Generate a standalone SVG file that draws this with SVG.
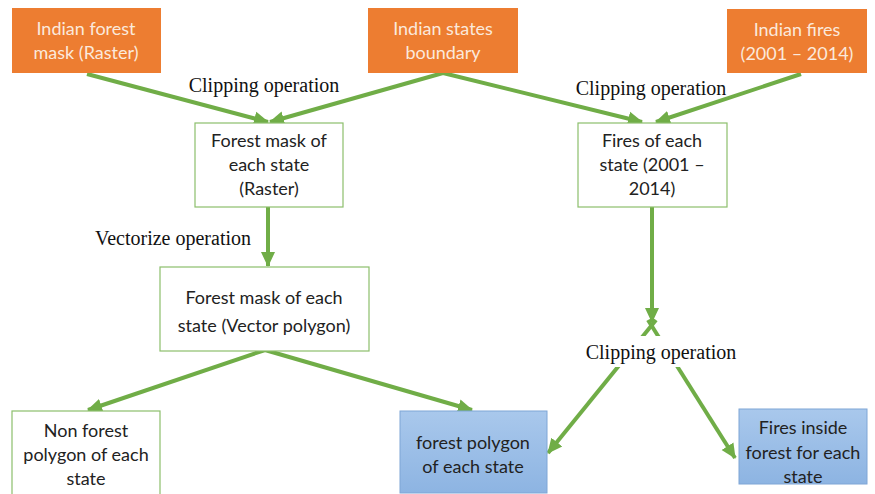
<svg xmlns="http://www.w3.org/2000/svg" width="875" height="494" viewBox="0 0 875 494">
<defs>
<marker id="ah" markerUnits="userSpaceOnUse" markerWidth="16" markerHeight="16" viewBox="0 0 16 16" refX="14" refY="8" orient="auto">
<path d="M0,1 L15,8 L0,15 Z" fill="#70AD47"/>
</marker>
<linearGradient id="blue" x1="0" y1="0" x2="0" y2="1">
<stop offset="0" stop-color="#A9C8EC"/>
<stop offset="1" stop-color="#8DB4E2"/>
</linearGradient>
</defs>
<style>
.or{fill:#ED7D31;}
.wb{fill:#ffffff;stroke:#8CBF6C;stroke-width:1.2;}
.bb{fill:url(#blue);stroke:#7FA6D6;stroke-width:1;}
.t{font-family:Lato,"Open Sans","Liberation Sans",sans-serif;font-size:18px;text-anchor:middle;fill:#222;}
.tw{font-family:Lato,"Open Sans","Liberation Sans",sans-serif;font-size:18px;text-anchor:middle;fill:#FBE9DC;}
.lbl{font-family:"Liberation Serif","Times New Roman",serif;font-size:20px;fill:#111;}
.c{stroke:#70AD47;stroke-width:4;fill:none;}
</style>
<rect width="875" height="494" fill="#ffffff"/>
<g id="connectors">
<line class="c" x1="87" y1="74" x2="268" y2="122" marker-end="url(#ah)"/>
<line class="c" x1="443" y1="73" x2="270" y2="122" marker-end="url(#ah)"/>
<line class="c" x1="443" y1="73" x2="642" y2="122" marker-end="url(#ah)"/>
<line class="c" x1="801" y1="74" x2="656" y2="122" marker-end="url(#ah)"/>
<line class="c" x1="268" y1="207" x2="268" y2="266" marker-end="url(#ah)"/>
<line class="c" x1="652" y1="207" x2="652" y2="322" marker-end="url(#ah)"/>
<line class="c" x1="265" y1="350" x2="88" y2="410" marker-end="url(#ah)"/>
<line class="c" x1="265" y1="350" x2="472" y2="410" marker-end="url(#ah)"/>
<line class="c" x1="656" y1="320" x2="548" y2="453" marker-end="url(#ah)"/>
<line class="c" x1="648" y1="320" x2="735" y2="458" marker-end="url(#ah)"/>
<rect x="584" y="336" width="156" height="31" fill="#ffffff"/>
</g>
<g id="labels">
<text class="lbl" x="264" y="92" text-anchor="middle">Clipping operation</text>
<text class="lbl" x="651" y="95" text-anchor="middle">Clipping operation</text>
<text class="lbl" x="173" y="245" text-anchor="middle">Vectorize operation</text>
<text class="lbl" x="661" y="359" text-anchor="middle">Clipping operation</text>
</g>
<g id="n1">
<rect class="or" x="12" y="8" width="149" height="65"/>
<text class="tw" x="86" y="35">Indian forest</text>
<text class="tw" x="86" y="59">mask (Raster)</text>
</g>
<g id="n2">
<rect class="or" x="368" y="8" width="150" height="65"/>
<text class="tw" x="443" y="35">Indian states</text>
<text class="tw" x="443" y="59">boundary</text>
</g>
<g id="n3">
<rect class="or" x="727" y="9" width="140" height="64"/>
<text class="tw" x="797" y="36">Indian fires</text>
<text class="tw" x="797" y="60">(2001 – 2014)</text>
</g>
<g id="n4">
<rect class="wb" x="195" y="123" width="148" height="84"/>
<text class="t" x="269" y="147">Forest mask of</text>
<text class="t" x="269" y="171">each state</text>
<text class="t" x="269" y="195">(Raster)</text>
</g>
<g id="n5">
<rect class="wb" x="578" y="123" width="149" height="84"/>
<text class="t" x="652" y="147">Fires of each</text>
<text class="t" x="652" y="171">state (2001 –</text>
<text class="t" x="652" y="195">2014)</text>
</g>
<g id="n6">
<rect class="wb" x="160" y="267" width="209" height="84"/>
<text class="t" x="264" y="304">Forest mask of each</text>
<text class="t" x="264" y="332">state (Vector polygon)</text>
</g>
<g id="n7">
<rect class="wb" x="12" y="411" width="148" height="90"/>
<text class="t" x="86" y="437">Non forest</text>
<text class="t" x="86" y="461">polygon of each</text>
<text class="t" x="86" y="485">state</text>
</g>
<g id="n8">
<rect class="bb" x="400" y="411" width="147" height="82"/>
<text class="t" x="473" y="449">forest polygon</text>
<text class="t" x="473" y="473">of each state</text>
</g>
<g id="n9">
<rect class="bb" x="739" y="409" width="128" height="75"/>
<text class="t" x="803" y="434">Fires inside</text>
<text class="t" x="803" y="459">forest for each</text>
<text class="t" x="803" y="483">state</text>
</g>
</svg>
